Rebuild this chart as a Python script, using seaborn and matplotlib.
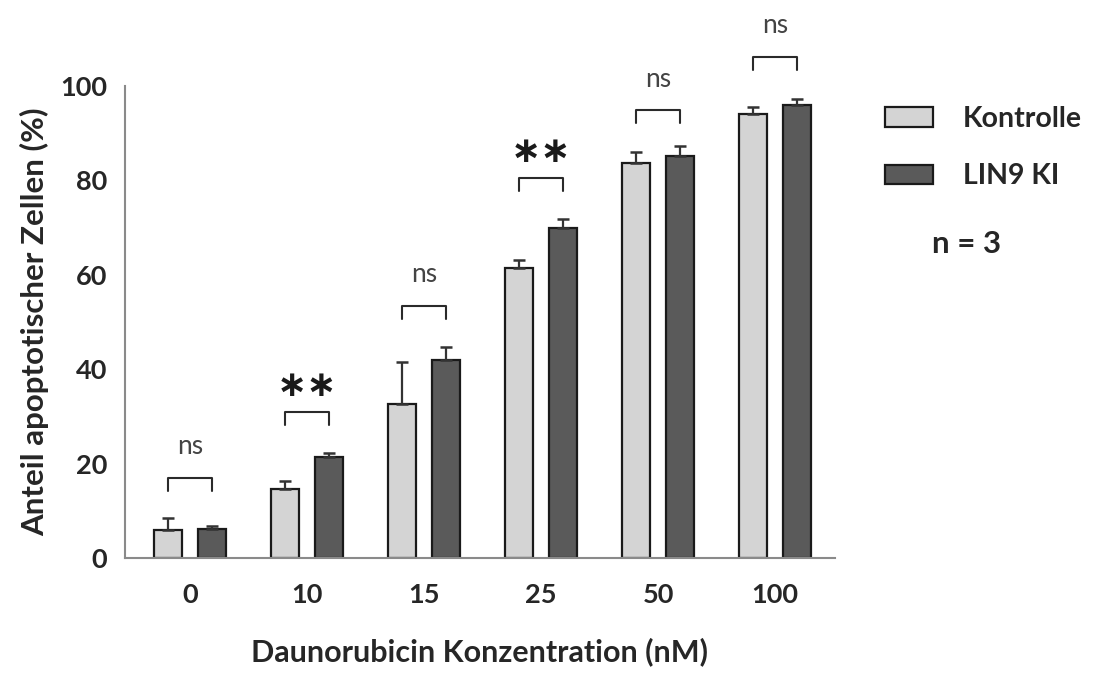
import numpy as np
import pandas as pd
import matplotlib
matplotlib.use("Agg")
import matplotlib.pyplot as plt
from matplotlib.patches import Patch
import seaborn as sns

# Daunorubicin concentrations (nM) and apoptosis measurements (mean, SD)
concentrations = ["0", "10", "15", "25", "50", "100"]
kontrolle = [5.9, 14.6, 32.6, 61.4, 83.8, 94.2]
kontrolle_sd = [2.6, 1.8, 9.0, 1.7, 2.3, 1.3]
lin9_ki = [6.2, 21.3, 42.0, 69.9, 85.2, 95.9]
lin9_ki_sd = [0.6, 0.9, 2.8, 2.0, 2.1, 1.3]
groups = ["Kontrolle", "LIN9 KI"]

# significance labels per concentration and the height of each bracket (%)
significance = ["ns", "**", "ns", "**", "ns", "ns"]
bracket_y = [17.0, 30.9, 53.4, 80.5, 94.9, 106.2]

sns.set_theme(style="white")
plt.rcParams["font.family"] = ["Lato", "DejaVu Sans"]

df = pd.DataFrame({
    "Konzentration": concentrations * 2,
    "Wert": kontrolle + lin9_ki,
    "SD": kontrolle_sd + lin9_ki_sd,
    "Gruppe": [groups[0]] * len(concentrations) + [groups[1]] * len(concentrations),
})

colors = {"Kontrolle": "#d4d4d4", "LIN9 KI": "#5a5a5a"}

fig = plt.figure(figsize=(10.99, 6.73), dpi=100)
ax = fig.add_axes([0.1137, 0.171, 0.646, 0.701])

sns.barplot(data=df, x="Konzentration", y="Wert", hue="Gruppe",
            order=concentrations, hue_order=groups, palette=colors,
            width=0.76, gap=0.37, errorbar=None, edgecolor="#1a1a1a",
            linewidth=1.6, legend=False, ax=ax)

# upward-only SD error bars at each bar's centre
centers = {}
for container, grp in zip(ax.containers, groups):
    sub = df[df["Gruppe"] == grp].set_index("Konzentration").loc[concentrations]
    xs = [p.get_x() + p.get_width() / 2 for p in container.patches]
    centers[grp] = xs
    ax.errorbar(xs, sub["Wert"].values,
                yerr=[np.zeros(len(xs)), sub["SD"].values],
                fmt="none", ecolor="#333333", elinewidth=1.6,
                capsize=4.5, capthick=1.8, zorder=1)

# significance brackets with labels
for i, (lab, yb) in enumerate(zip(significance, bracket_y)):
    x0, x1 = centers[groups[0]][i], centers[groups[1]][i]
    ax.plot([x0, x0, x1, x1], [yb - 2.8, yb, yb, yb - 2.8],
            color="#2a2a2a", lw=1.5, clip_on=False)
    if lab == "ns":
        ax.text((x0 + x1) / 2, yb + 6.6, lab, ha="center", va="center",
                fontsize=19, color="#444444", clip_on=False)
    else:
        ax.text((x0 + x1) / 2, yb + 2.0, "∗∗", ha="center", va="bottom",
                fontsize=26, fontweight="bold", color="#1a1a1a",
                family="DejaVu Sans", clip_on=False)

ax.set_ylim(0, 100)
ax.set_xlim(-0.556, 5.51)
ax.set_yticks([0, 20, 40, 60, 80, 100])

for side in ["top", "right"]:
    ax.spines[side].set_visible(False)
for side in ["left", "bottom"]:
    ax.spines[side].set_color("#8a8a8a")
    ax.spines[side].set_linewidth(1.5)

ax.tick_params(axis="both", which="major", direction="out", length=8,
               width=1.3, color="#8a8a8a", labelsize=19.5, pad=5)
for t in ax.get_xticklabels() + ax.get_yticklabels():
    t.set_fontweight("bold")
ax.tick_params(axis="x", pad=10)

ax.set_ylabel("Anteil apoptotischer Zellen (%)", fontsize=22.5,
              fontweight="bold", labelpad=8)
ax.set_xlabel("Daunorubicin Konzentration (nM)", fontsize=22,
              fontweight="bold", labelpad=22)

handles = [Patch(facecolor=colors[g], edgecolor="#1a1a1a", linewidth=1.6)
           for g in groups]
fig.legend(handles, groups, loc="upper left", bbox_to_anchor=(0.787, 0.872),
           frameon=False, handlelength=1.68, handleheight=0.66,
           handletextpad=1.05, labelspacing=1.1, borderpad=0.2,
           prop={"size": 20.5, "weight": "bold"})

fig.text(0.848, 0.638, "n = 3", fontsize=22.5, fontweight="bold",
         ha="left", va="center")

fig.savefig("out.png", dpi=100)
